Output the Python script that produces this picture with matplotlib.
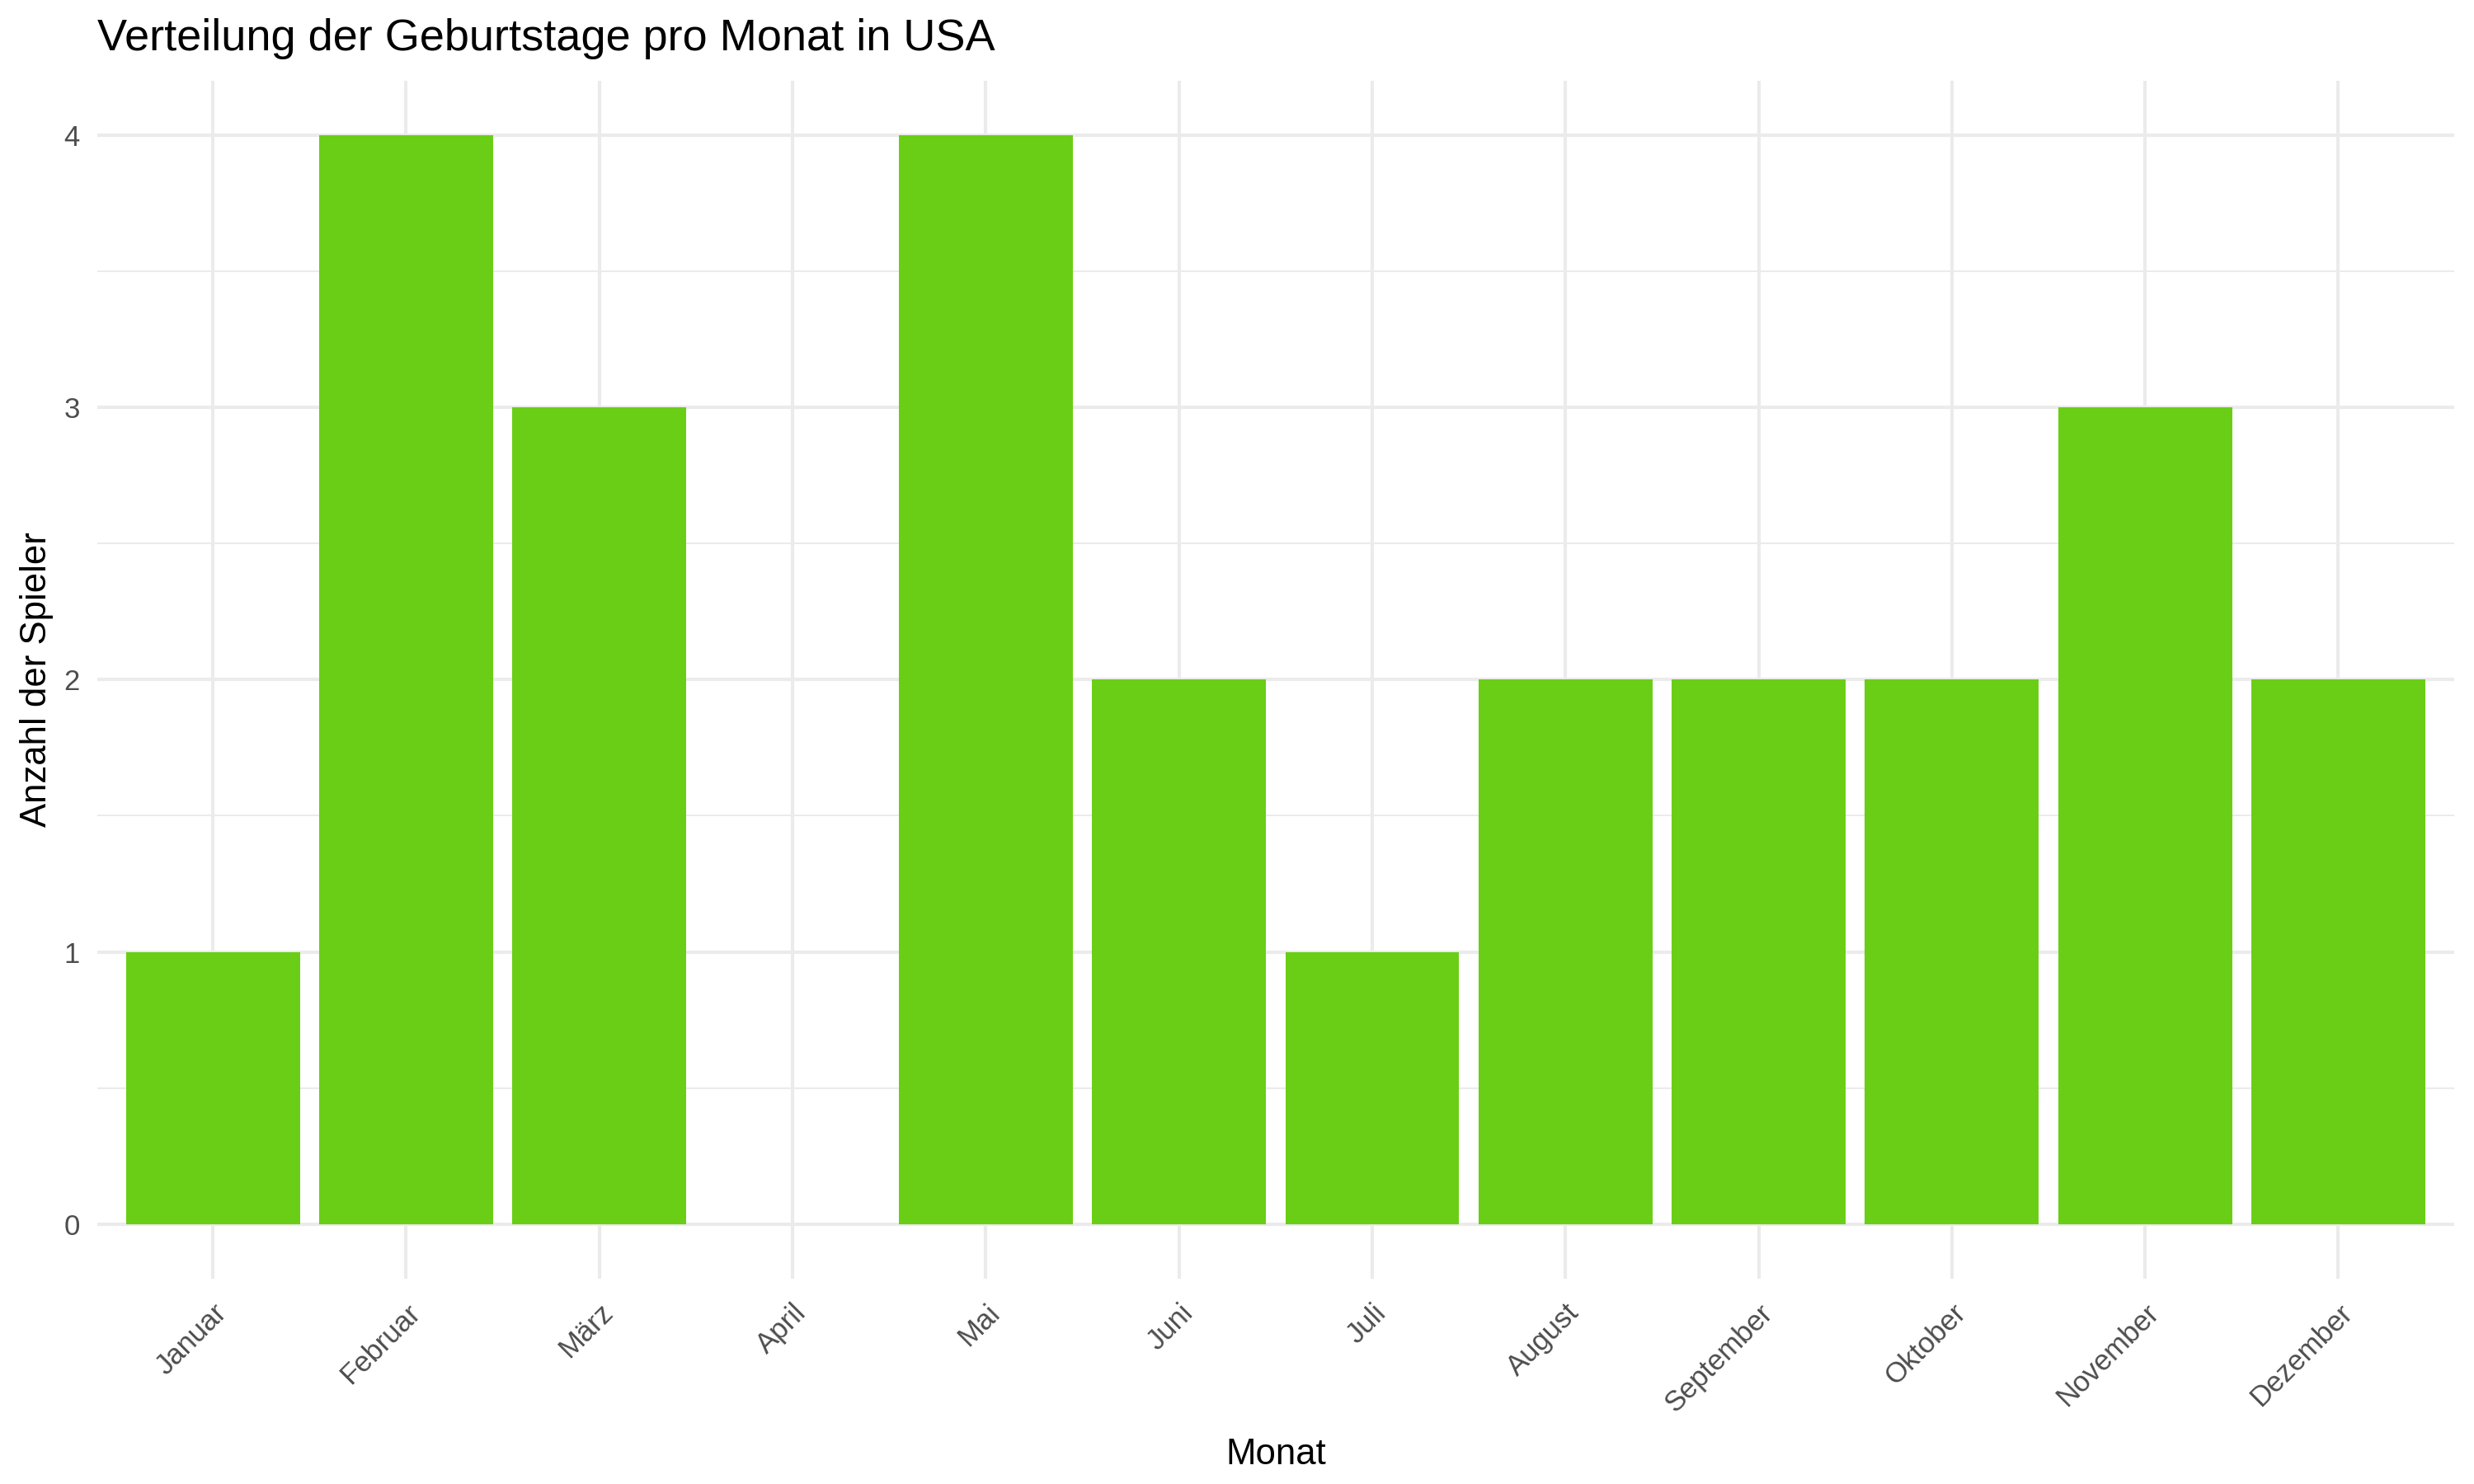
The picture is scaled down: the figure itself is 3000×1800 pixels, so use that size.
import numpy as np
import matplotlib
matplotlib.use("Agg")
import matplotlib.pyplot as plt

# Geburtstage pro Monat (USA)
monate = ['Januar', 'Februar', 'März', 'April', 'Mai', 'Juni', 'Juli',
          'August', 'September', 'Oktober', 'November', 'Dezember']
anzahl = [1, 4, 3, 0, 4, 2, 1, 2, 2, 2, 3, 2]

plt.rcParams['font.family'] = ['Liberation Sans', 'DejaVu Sans']

fig = plt.figure(figsize=(10, 6), dpi=300)
ax = fig.add_axes([0.0392, 0.1386, 0.9528, 0.8067])

pos = np.arange(1, len(monate) + 1)
ax.bar(pos, anzahl, width=0.9, color='#6ACE16', zorder=2)

ax.set_xlim(0.4, 12.6)
ax.set_ylim(-0.2, 4.2)
ax.set_yticks([0, 1, 2, 3, 4])
ax.set_yticks([0.5, 1.5, 2.5, 3.5], minor=True)
ax.set_xticks(pos)
ax.set_xticklabels(monate, rotation=45, ha='right', rotation_mode='anchor')

ax.grid(which='major', axis='both', color='#EBEBEB', linewidth=1.0, zorder=0)
ax.grid(which='minor', axis='y', color='#EBEBEB', linewidth=0.5, zorder=0)
for s in ax.spines.values():
    s.set_visible(False)
ax.tick_params(axis='both', which='both', length=0, labelsize=8.3, labelcolor='#4D4D4D')
ax.tick_params(axis='x', pad=6)
ax.tick_params(axis='y', pad=5)

ax.set_xlabel('Monat', fontsize=10.5, labelpad=6)
ax.set_ylabel('Anzahl der Spieler', fontsize=10.5, labelpad=3)
ax.set_title('Verteilung der Geburtstage pro Monat in USA', fontsize=13,
             loc='left', x=0.0, pad=9)

fig.savefig('out.png', dpi=300, facecolor='white')
